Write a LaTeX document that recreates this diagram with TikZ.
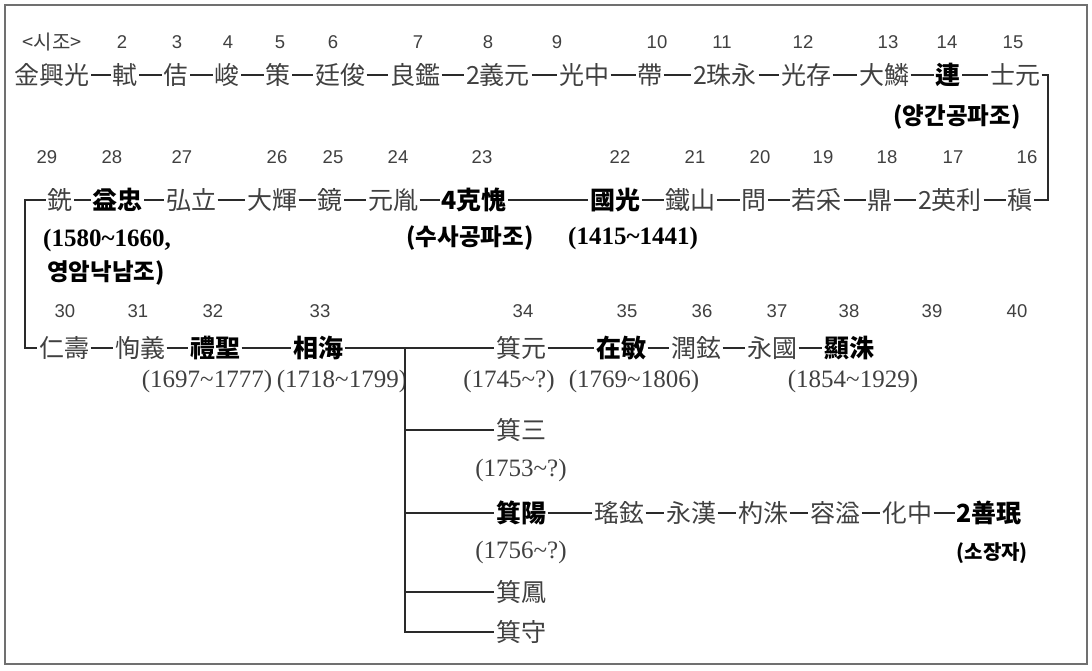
\documentclass[tikz,border=0pt]{standalone}
\usepackage{fontspec}
\setmainfont{Liberation Serif}
\newfontfamily\cjk{Noto Sans CJK KR}
\newfontfamily\numfont{Liberation Sans}
\definecolor{txt}{HTML}{404040}
\definecolor{ln}{HTML}{2A2A2A}
\definecolor{framec}{HTML}{707070}
\begin{document}
\begin{tikzpicture}[x=1pt,y=-1pt,
  nm/.style={inner xsep=1.5pt, inner ysep=0pt, text height=21pt, text depth=3pt, font=\cjk\fontsize{25}{25}\selectfont, text=txt},
  bnm/.style={nm, font=\cjk\bfseries\fontsize{25}{25}\selectfont, text=black},
  gen/.style={inner sep=0pt, font=\numfont\fontsize{18.5}{18.5}\selectfont, text=txt},
  yr/.style={inner sep=0pt, font=\fontsize{25}{25}\selectfont, text=txt},
  byr/.style={yr, font=\bfseries\fontsize{25}{25}\selectfont, text=black},
  kr/.style={inner sep=0pt, font=\cjk\bfseries\fontsize{23.5}{23.5}\selectfont, text=black},
  conn/.style={draw=ln, line width=1.4pt},
]
\useasboundingbox (0,0) rectangle (1092,670);
\draw[framec, line width=1.3pt] (5,5) rectangle (1087,664);

% ---------- row 1 ----------
\node[gen, font=\cjk\fontsize{20}{20}\selectfont] (g1) at (52,42) {<시조>};
\foreach \n/\x in {2/122,3/177,4/228,5/280,6/333,7/418,8/488,9/557,10/657,11/722,12/803,13/888,14/947,15/1013}
  \node[gen] (g\n) at (\x,42) {\n};

\node[nm]  (a1)  at (52,75)   {金興光};
\node[nm]  (a2)  at (125,75)  {軾};
\node[nm]  (a3)  at (176,75)  {佶};
\node[nm]  (a4)  at (227,75)  {峻};
\node[nm]  (a5)  at (278,75)  {策};
\node[nm]  (a6)  at (340,75)  {廷俊};
\node[nm]  (a7)  at (415,75)  {良鑑};
\node[nm]  (a8)  at (498,75)  {2義元};
\node[nm]  (a9)  at (584,75)  {光中};
\node[nm]  (a10) at (650,75)  {帶};
\node[nm]  (a11) at (725,75)  {2珠永};
\node[nm]  (a12) at (806,75)  {光存};
\node[nm]  (a13) at (884,75)  {大鱗};
\node[bnm] (a14) at (948,75)  {連};
\node[nm]  (a15) at (1015,75) {士元};
\foreach \i [evaluate=\i as \j using int(\i+1)] in {1,...,14}
  \draw[conn] (a\i.east) -- (a\j.west);

\node[kr] (k1) at (957,117) {(양간공파조)};

% ---------- row 2 ----------
\foreach \n/\x in {29/47,28/112,27/182,26/277,25/333,24/398,23/482,22/620,21/695,20/760,19/823,18/887,17/953,16/1027}
  \node[gen] (g\n) at (\x,157) {\n};

\node[nm]  (b1)  at (60,200)   {銑};
\node[bnm] (b2)  at (117.5,200) {益忠};
\node[nm]  (b3)  at (191,200)  {弘立};
\node[nm]  (b4)  at (272,200)  {大輝};
\node[nm]  (b5)  at (330,200)  {鏡};
\node[nm]  (b6)  at (393,200)  {元胤};
\node[bnm] (b7)  at (474,200)  {4克愧};
\node[bnm] (b8)  at (615,200)  {國光};
\node[nm]  (b9)  at (690.6,200) {鐵山};
\node[nm]  (b10) at (753.7,200) {問};
\node[nm]  (b11) at (816.8,200) {若采};
\node[nm]  (b12) at (880,200)  {鼎};
\node[nm]  (b13) at (950,200)  {2英利};
\node[nm]  (b14) at (1020,200) {稹};
\foreach \i [evaluate=\i as \j using int(\i+1)] in {1,...,13}
  \draw[conn] (b\i.east) -- (b\j.west);

\node[byr, anchor=west] (y1) at (43,240) {(1580\textasciitilde1660,};
\node[kr, anchor=west] (k2) at (47,273) {영암낙남조)};
\node[kr] (k3) at (470,238) {(수사공파조)};
\node[byr] (y2) at (633,238) {(1415\textasciitilde1441)};

% right and left turns
\coordinate (R) at (1048,0);
\coordinate (L) at (25,0);
\draw[conn] (a15.east) -- (a15.east -| R) -- (b14.east -| R) -- (b14.east);

% ---------- row 3 ----------
\foreach \n/\x in {30/65,31/138,32/213,33/320,34/523,35/627,36/702,37/777,38/849,39/932,40/1017}
  \node[gen] (g\n) at (\x,311) {\n};

\node[nm]  (c1) at (64,348)  {仁壽};
\node[nm]  (c2) at (140,348) {恂義};
\node[bnm] (c3) at (215,348) {禮聖};
\node[bnm] (c4) at (318,348) {相海};
\node[nm]  (c5) at (521,348) {箕元};
\node[bnm] (c6) at (621,348) {在敏};
\node[nm]  (c7) at (696,348) {潤鉉};
\node[nm]  (c8) at (772,348) {永國};
\node[bnm] (c9) at (849,348) {顯洙};
\foreach \i [evaluate=\i as \j using int(\i+1)] in {1,...,8}
  \draw[conn] (c\i.east) -- (c\j.west);

\draw[conn] (b1.west) -- (b1.west -| L) -- (c1.west -| L) -- (c1.west);

\node[yr] (y3) at (207,381) {(1697\textasciitilde1777)};
\node[yr] (y4) at (342,381) {(1718\textasciitilde1799)};
\node[yr] (y5) at (509,381) {(1745\textasciitilde?)};
\node[yr] (y6) at (634,381) {(1769\textasciitilde1806)};
\node[yr] (y7) at (853,381) {(1854\textasciitilde1929)};

% ---------- branches ----------
\coordinate (J) at (405,0);
\node[nm]  (d1) at (521,430) {箕三};
\node[yr]  (y8) at (521,470) {(1753\textasciitilde?)};
\node[bnm] (d2) at (521,513) {箕陽};
\node[yr]  (y9) at (521,552) {(1756\textasciitilde?)};
\node[nm]  (d3) at (521,592) {箕鳳};
\node[nm]  (d4) at (521,632) {箕守};

\draw[conn] (c4.east -| J) -- (d4.west -| J) -- (d4.west);
\foreach \d in {d1,d2,d3}
  \draw[conn] (\d.west -| J) -- (\d.west);

\node[nm]  (e1) at (619,513) {瑤鉉};
\node[nm]  (e2) at (691,513) {永漢};
\node[nm]  (e3) at (763,513) {杓洙};
\node[nm]  (e4) at (835,513) {容溢};
\node[nm]  (e5) at (907,513) {化中};
\node[bnm] (e6) at (989,513) {2善珉};
\draw[conn] (d2.east) -- (e1.west);
\draw[conn] (e1.east) -- (e2.west);
\draw[conn] (e2.east) -- (e3.west);
\draw[conn] (e3.east) -- (e4.west);
\draw[conn] (e4.east) -- (e5.west);
\draw[conn] (e5.east) -- (e6.west);
\node[kr, font=\cjk\bfseries\fontsize{20}{20}\selectfont, anchor=east] (k4) at (1028,553) {(소장자)};
\end{tikzpicture}
\end{document}
